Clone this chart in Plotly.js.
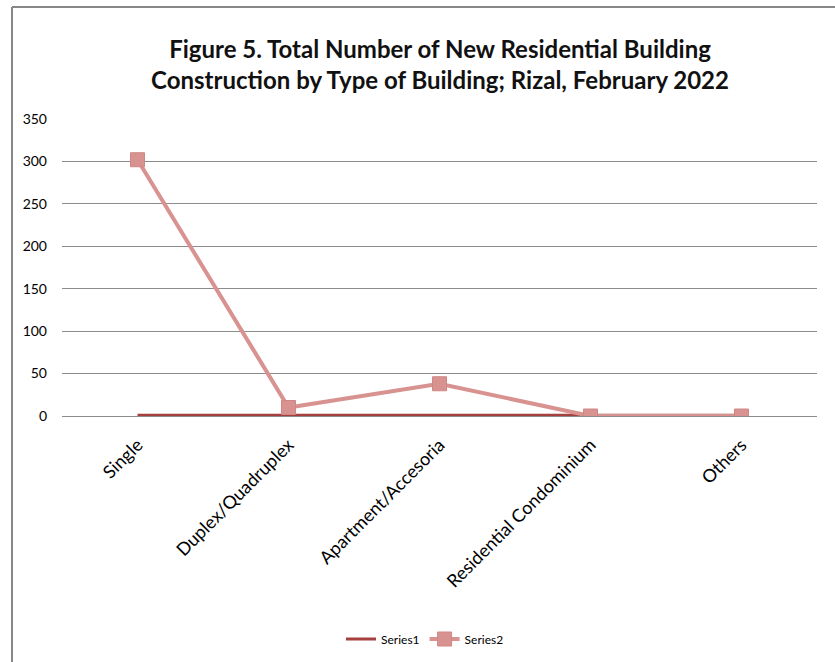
<!DOCTYPE html>
<html>
<head>
<meta charset="utf-8">
<script src="https://cdn.plot.ly/plotly-3.0.1.min.js"></script>
<style>
html,body{margin:0;padding:0;background:#fff;}
#chart{width:835px;height:662px;}
</style>
</head>
<body>
<div id="chart"></div>
<script>
const categories = ["Single", "Duplex/Quadruplex", "Apartment/Accesoria", "Residential Condominium", "Others"];
const series1 = [1, 1, 1, 1, 1];
const series2 = [302, 10, 38, 0, 0];
const yTicks = [0, 50, 100, 150, 200, 250, 300, 350];

const FONT = "Lato, 'Open Sans', sans-serif";

const traces = [
  {
    x: categories, y: series1, name: "Series1", type: "scatter", mode: "lines",
    line: {color: "#a5403f", width: 3}
  },
  {
    x: categories, y: series2, name: "Series2", type: "scatter", mode: "lines+markers",
    line: {color: "#d89391", width: 4},
    marker: {symbol: "square", size: 14, color: "#d89391", line: {color: "#cf8785", width: 1}}
  }
];

const L = 62, R = 18, T = 119, B = 246;
const W = 835 - L - R, H = 662 - T - B;
const px = x => (x - L) / W;
const py = y => (662 - B - y) / H;

const layout = {
  width: 835, height: 662,
  margin: {l: L, r: R, t: T, b: B, autoexpand: false},
  paper_bgcolor: "#ffffff", plot_bgcolor: "#ffffff",
  font: {family: FONT, color: "#000"},
  title: {
    text: "<b>Figure 5. Total Number of New Residential Building<br>Construction by Type of Building; Rizal, February 2022</b>",
    font: {family: FONT, size: 24, color: "#111"},
    x: 0.527, xanchor: "center", y: 0.912, yanchor: "middle"
  },
  showlegend: true,
  legend: {
    orientation: "h", x: px(425), xanchor: "center", y: py(639), yanchor: "middle",
    font: {family: FONT, size: 12, color: "#000"}
  },
  xaxis: {
    type: "category", range: [-0.5, 4.5], automargin: false,
    showgrid: false, zeroline: false, showline: false,
    ticks: "", tickangle: -45, ticklabelstandoff: 14,
    tickfont: {family: FONT, size: 18, color: "#000"}
  },
  yaxis: {
    range: [0, 350], tickvals: yTicks, ticktext: yTicks.map(String), automargin: false,
    showgrid: true, gridcolor: "#8c8c8c", gridwidth: 1,
    zeroline: true, zerolinecolor: "#8c8c8c", zerolinewidth: 1,
    showline: false, ticks: "",
    tickfont: {family: FONT, size: 14, color: "#000"},
    ticklabelstandoff: 14
  },
  shapes: [
    {type: "line", xref: "paper", yref: "paper", x0: px(12), x1: px(12), y0: py(7), y1: py(700),
     line: {color: "#888", width: 2}},
    {type: "line", xref: "paper", yref: "paper", x0: px(12), x1: px(840), y0: py(7), y1: py(7),
     line: {color: "#888", width: 2}}
  ]
};

Plotly.newPlot("chart", traces, layout, {displayModeBar: false, staticPlot: true});
</script>
</body>
</html>
